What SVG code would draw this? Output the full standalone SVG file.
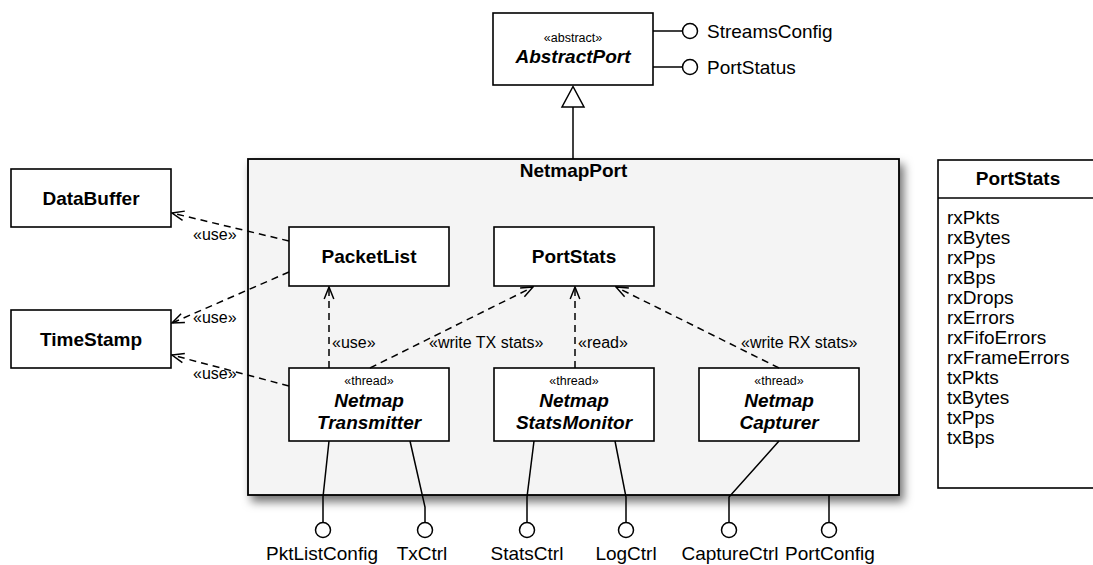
<svg xmlns="http://www.w3.org/2000/svg" width="1093" height="565" viewBox="0 0 1093 565">
  <style>
    text { font-family: "Liberation Sans", Arial, Helvetica, sans-serif; fill: #000; }
    .box { fill: #fff; stroke: #000; stroke-width: 1.6; }
    .frame { fill: #f4f4f4; stroke: #000; stroke-width: 1.8; }
    .name { font-size: 19px; font-weight: bold; text-anchor: middle; }
    .abs { font-size: 19px; font-weight: bold; font-style: italic; text-anchor: middle; }
    .stereo { font-size: 12.5px; text-anchor: middle; }
    .lbl { font-size: 16px; }
    .iface { font-size: 19px; }
    .ifaceb { font-size: 19px; text-anchor: middle; }
    .attr { font-size: 19px; }
    .dep { fill: none; stroke: #000; stroke-width: 1.5; stroke-dasharray: 7 5; marker-end: url(#open); }
    .wire { fill: none; stroke: #000; stroke-width: 1.5; }
    .lollipop { fill: #fff; stroke: #000; stroke-width: 1.5; }
  </style>
  <defs>
    <marker id="open" viewBox="0 0 14 12" refX="13" refY="6" markerWidth="14" markerHeight="12" orient="auto" markerUnits="userSpaceOnUse">
      <path d="M1,1.2 L13,6 L1,10.8" fill="none" stroke="#000" stroke-width="1.5"/>
    </marker>
    <filter id="shadow" x="-5%" y="-5%" width="115%" height="120%">
      <feDropShadow dx="4" dy="6" stdDeviation="5" flood-color="#000" flood-opacity="0.55"/>
    </filter>
  </defs>

  <!-- Component frame -->
  <g id="NetmapPort">
    <rect class="frame" x="248" y="159" width="651" height="336" filter="url(#shadow)"/>
    <text class="name" x="573.5" y="177">NetmapPort</text>
  </g>

  <g id="AbstractPort">
    <rect class="box" x="493" y="13" width="160" height="72"/>
    <text class="stereo" x="573" y="42">«abstract»</text>
    <text class="abs" x="573" y="63">AbstractPort</text>
  </g>

  <g id="DataBuffer">
    <rect class="box" x="11" y="169" width="160" height="58"/>
    <text class="name" x="91" y="205">DataBuffer</text>
  </g>

  <g id="TimeStamp">
    <rect class="box" x="11" y="310" width="160" height="58"/>
    <text class="name" x="91" y="346">TimeStamp</text>
  </g>

  <g id="PacketList">
    <rect class="box" x="289" y="227" width="160" height="59"/>
    <text class="name" x="369" y="263">PacketList</text>
  </g>

  <g id="PortStatsPart">
    <rect class="box" x="494" y="227" width="160" height="59"/>
    <text class="name" x="574" y="263">PortStats</text>
  </g>

  <g id="NetmapTransmitter">
    <rect class="box" x="289" y="368" width="160" height="73"/>
    <text class="stereo" x="369" y="385">«thread»</text>
    <text class="abs" x="369" y="407">Netmap</text>
    <text class="abs" x="369" y="429">Transmitter</text>
  </g>

  <g id="NetmapStatsMonitor">
    <rect class="box" x="494" y="368" width="160" height="73"/>
    <text class="stereo" x="574" y="385">«thread»</text>
    <text class="abs" x="574" y="407">Netmap</text>
    <text class="abs" x="574" y="429">StatsMonitor</text>
  </g>

  <g id="NetmapCapturer">
    <rect class="box" x="699" y="368" width="160" height="73"/>
    <text class="stereo" x="779" y="385">«thread»</text>
    <text class="abs" x="779" y="407">Netmap</text>
    <text class="abs" x="779" y="429">Capturer</text>
  </g>

  <!-- PortStats class with attributes -->
  <g id="PortStatsClass">
    <rect class="box" x="938" y="160" width="170" height="328"/>
    <line class="wire" x1="938" y1="198" x2="1108" y2="198"/>
    <text class="name" x="1018" y="185">PortStats</text>
    <text class="attr" x="947" y="224">rxPkts</text>
    <text class="attr" x="947" y="244">rxBytes</text>
    <text class="attr" x="947" y="264">rxPps</text>
    <text class="attr" x="947" y="284">rxBps</text>
    <text class="attr" x="947" y="304">rxDrops</text>
    <text class="attr" x="947" y="324">rxErrors</text>
    <text class="attr" x="947" y="344">rxFifoErrors</text>
    <text class="attr" x="947" y="364">rxFrameErrors</text>
    <text class="attr" x="947" y="384">txPkts</text>
    <text class="attr" x="947" y="404">txBytes</text>
    <text class="attr" x="947" y="424">txPps</text>
    <text class="attr" x="947" y="444">txBps</text>
  </g>

  <!-- Provided interfaces -->
  <g id="StreamsConfig">
    <circle class="lollipop" cx="690" cy="31" r="7.5"/>
    <text class="iface" x="707" y="37.5">StreamsConfig</text>
  </g>
  <g id="PortStatus">
    <circle class="lollipop" cx="690" cy="67" r="7.5"/>
    <text class="iface" x="707" y="73.5">PortStatus</text>
  </g>
  <g id="PktListConfig">
    <circle class="lollipop" cx="323" cy="530" r="7.5"/>
    <text class="ifaceb" x="322" y="560">PktListConfig</text>
  </g>
  <g id="TxCtrl">
    <circle class="lollipop" cx="425" cy="530" r="7.5"/>
    <text class="ifaceb" x="422" y="560">TxCtrl</text>
  </g>
  <g id="StatsCtrl">
    <circle class="lollipop" cx="527" cy="530" r="7.5"/>
    <text class="ifaceb" x="527" y="560">StatsCtrl</text>
  </g>
  <g id="LogCtrl">
    <circle class="lollipop" cx="626" cy="530" r="7.5"/>
    <text class="ifaceb" x="626" y="560">LogCtrl</text>
  </g>
  <g id="CaptureCtrl">
    <circle class="lollipop" cx="729" cy="530" r="7.5"/>
    <text class="ifaceb" x="730" y="560">CaptureCtrl</text>
  </g>
  <g id="PortConfig">
    <circle class="lollipop" cx="829" cy="530" r="7.5"/>
    <text class="ifaceb" x="830" y="560">PortConfig</text>
  </g>

  <!-- Connectors -->
  <g id="connectors">
    <!-- generalization -->
    <line class="wire" x1="573" y1="107" x2="573" y2="159"/>
    <polygon points="573,86.5 562,107 584,107" fill="#fff" stroke="#000" stroke-width="1.5"/>

    <!-- interface wires -->
    <line class="wire" x1="653" y1="31" x2="682.5" y2="31"/>
    <line class="wire" x1="653" y1="67" x2="682.5" y2="67"/>
    <polyline class="wire" points="329,441 323,497 323,522.5"/>
    <polyline class="wire" points="410,441 425,507 425,522.5"/>
    <polyline class="wire" points="534,441 527,497 527,522.5"/>
    <polyline class="wire" points="615,441 626,497 626,522.5"/>
    <polyline class="wire" points="779,441 729,497 729,522.5"/>
    <line class="wire" x1="829" y1="495" x2="829" y2="522.5"/>

    <!-- dependencies -->
    <line class="dep" x1="289" y1="241" x2="172" y2="213"/>
    <line class="dep" x1="289" y1="272" x2="172" y2="323"/>
    <line class="dep" x1="289" y1="386" x2="172" y2="355"/>
    <line class="dep" x1="329" y1="368" x2="329" y2="287"/>
    <line class="dep" x1="370" y1="368" x2="533" y2="287"/>
    <line class="dep" x1="575" y1="368" x2="575" y2="287"/>
    <line class="dep" x1="779" y1="368" x2="616" y2="287"/>

    <text class="lbl" x="193" y="240">«use»</text>
    <text class="lbl" x="193" y="323">«use»</text>
    <text class="lbl" x="193" y="379">«use»</text>
    <text class="lbl" x="332" y="348">«use»</text>
    <text class="lbl" x="429" y="348">«write TX stats»</text>
    <text class="lbl" x="578" y="348">«read»</text>
    <text class="lbl" x="741" y="348">«write RX stats»</text>
  </g>
</svg>
